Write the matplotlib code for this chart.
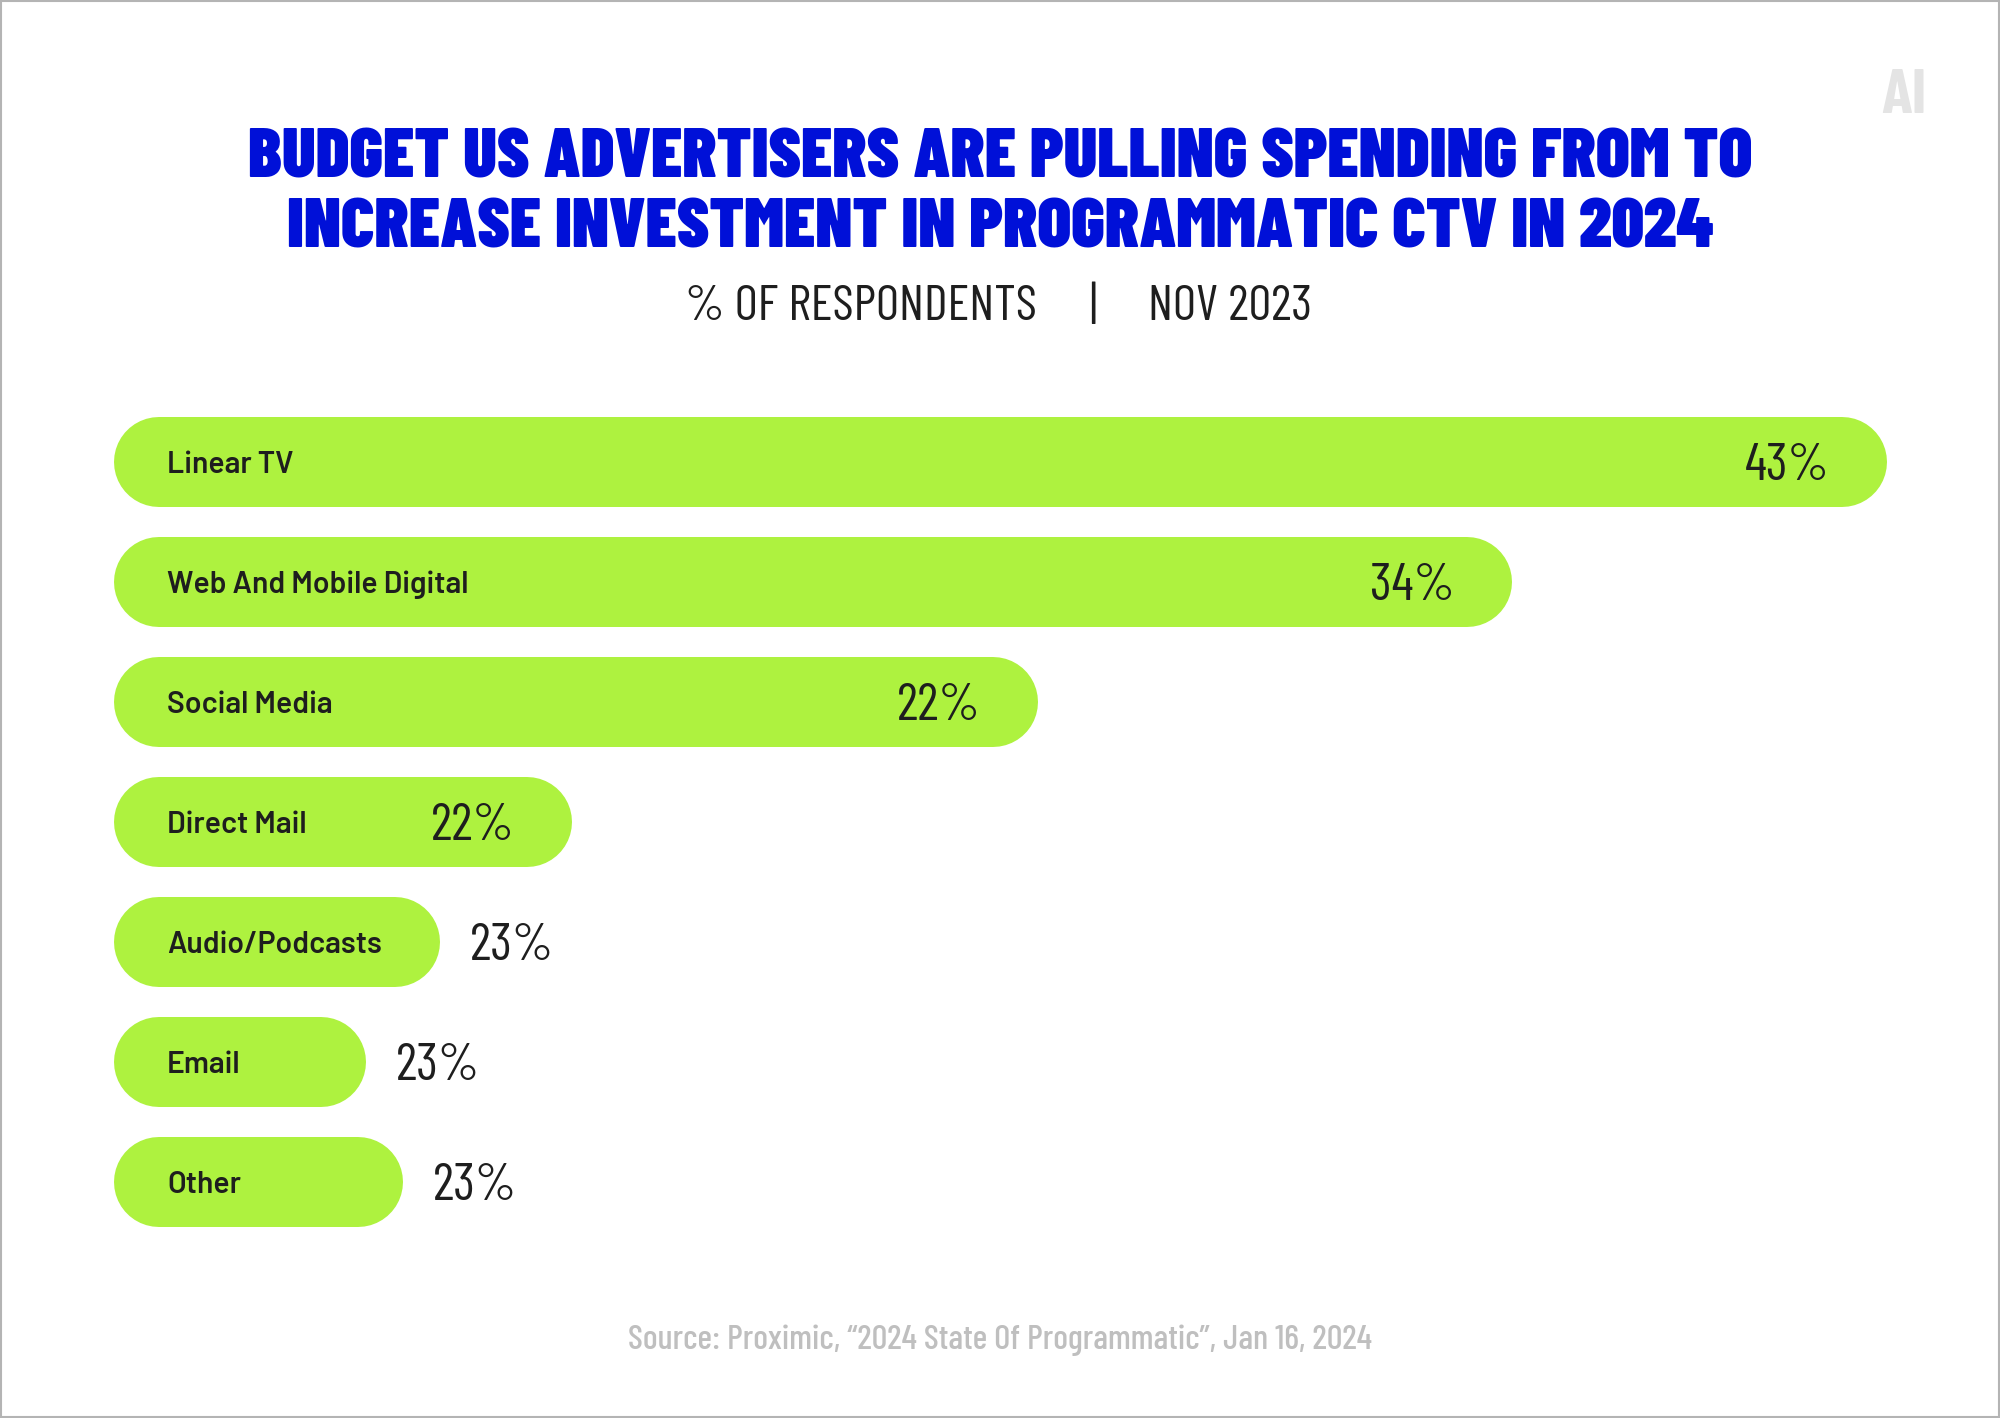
import matplotlib
matplotlib.use("Agg")
import matplotlib.pyplot as plt
from matplotlib.patches import Rectangle

categories = ["Linear TV", "Web And Mobile Digital", "Social Media", "Direct Mail",
              "Audio/Podcasts", "Email", "Other"]
pct_labels = [43, 34, 22, 22, 23, 23, 23]
# drawn bar lengths (the graphic does not scale the lower bars to their labels)
bar_lengths = [43, 33.9, 22.4, 11.1, 7.9, 6.1, 7.0]

W, H = 2000, 1418
px_per_pct = 41.23
x0 = 114            # left edge of bars, px
row0, row_gap = 462, 120
bar_h = 90

green = "#aef23f"
dark = "#1e1e1e"
blue = "#0010d8"

fig = plt.figure(figsize=(W / 100, H / 100), dpi=100)
fig.patch.set_facecolor("white")
ax = fig.add_axes([0, 0, 1, 1])
ax.set_xlim(-x0 / px_per_pct, (W - x0) / px_per_pct)
ax.set_ylim((H - row0) / row_gap, -row0 / row_gap)
ax.axis("off")

r = bar_h / 2 / px_per_pct            # cap radius in % units
lw = bar_h * 72 / 100                 # line width in points
for i, (cat, v, lab) in enumerate(zip(categories, bar_lengths, pct_labels)):
    ax.plot([r, v - r], [i, i], color=green, lw=lw, solid_capstyle="round", zorder=1)
    ax.text(53 / px_per_pct, i, cat, ha="left", va="center_baseline", fontsize=21.7,
            family="Barlow", weight=600, color=dark, zorder=2)
    if v > 10:
        ax.text(v - 57 / px_per_pct, i, f"{lab}%", ha="right", va="center_baseline",
                fontsize=38, family="Barlow Condensed", weight=400, color=dark)
    else:
        ax.text(v + 30 / px_per_pct, i, f"{lab}%", ha="left", va="center_baseline",
                fontsize=38, family="Barlow Condensed", weight=400, color=dark)

# titles
fig.text(0.5, 1 - 153 / H, "BUDGET US ADVERTISERS ARE PULLING SPENDING FROM TO",
         ha="center", va="center_baseline", fontsize=50.5, family="Barlow Condensed",
         weight=900, color=blue)
fig.text(0.5, 1 - 223 / H, "INCREASE INVESTMENT IN PROGRAMMATIC CTV IN 2024",
         ha="center", va="center_baseline", fontsize=50.5, family="Barlow Condensed",
         weight=900, color=blue)

sub_y = 1 - 302 / H
fig.text(1037 / W, sub_y, "% OF RESPONDENTS", ha="right", va="center_baseline",
         fontsize=36.5, family="Barlow Condensed", weight=400, color=dark)
fig.text(1093 / W, sub_y, "|", ha="center", va="center_baseline",
         fontsize=36.5, family="Barlow Condensed", weight=400, color=dark)
fig.text(1148 / W, sub_y, "NOV 2023", ha="left", va="center_baseline",
         fontsize=36.5, family="Barlow Condensed", weight=400, color=dark)

fig.text(0.5, 1 - 1337 / H, "Source: Proximic, \u201c2024 State Of Programmatic\u201d, Jan 16, 2024",
         ha="center", va="center_baseline", fontsize=25, family="Barlow Condensed",
         weight=500, color="#bfbfbf")
fig.text(1904 / W, 1 - 91 / H, "AI", ha="center", va="center_baseline", fontsize=46,
         family="Barlow Condensed", weight=700, color="#e4e4e4")

fig.patches.append(Rectangle((0.0005, 0.0007), 0.999, 0.9986, transform=fig.transFigure,
                             fill=False, edgecolor="#b4b4b4", lw=1.5))

fig.savefig("out.png", dpi=100)
